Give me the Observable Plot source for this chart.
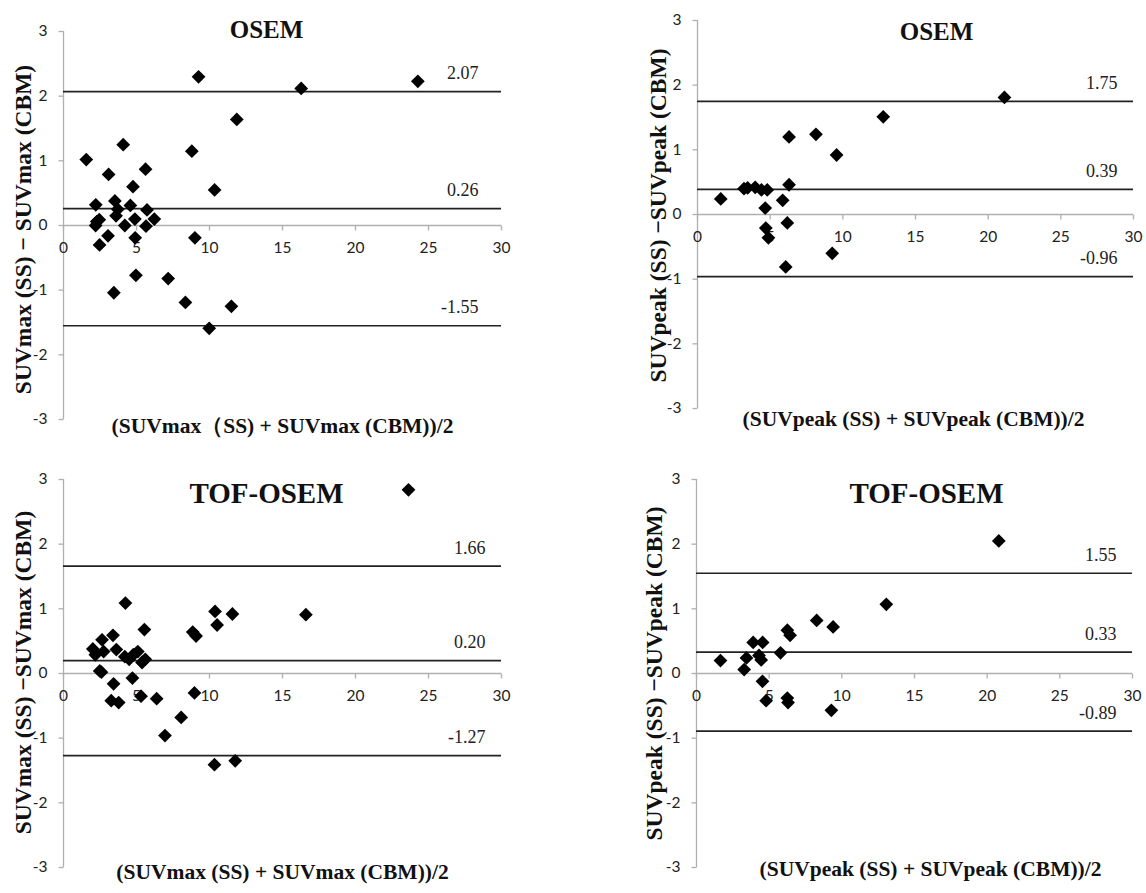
<!DOCTYPE html>
<html><head><meta charset="utf-8">
<script src="https://cdn.jsdelivr.net/npm/d3@7"></script>
<script src="https://cdn.jsdelivr.net/npm/@observablehq/plot@0.6"></script>
<style>
html,body{margin:0;padding:0;background:#fff;}
#wrap{position:relative;width:1146px;height:893px;overflow:hidden;background:#fff;}
#wrap svg{position:absolute;overflow:visible;}
</style></head><body><div id="wrap"></div>
<script>
// ---- data ----
const xTicks = [0, 5, 10, 15, 20, 25, 30];
const yTicks = [-3, -2, -1, 0, 1, 2, 3];
const titles = ["OSEM", "OSEM", "TOF-OSEM", "TOF-OSEM"];
const yLabels = [
  "SUVmax (SS) \u2212 SUVmax (CBM)",
  "SUVpeak (SS) \u2212SUVpeak (CBM)",
  "SUVmax (SS) \u2212SUVmax (CBM)",
  "SUVpeak (SS) \u2212SUVpeak (CBM)"
];
const xLabels = [
  "(SUVmax\uFF08SS) + SUVmax (CBM))/2",
  "(SUVpeak (SS) + SUVpeak (CBM))/2",
  "(SUVmax (SS) + SUVmax (CBM))/2",
  "(SUVpeak (SS) + SUVpeak (CBM))/2"
];

// SUVmax, OSEM
const p1x = [9.25, 24.27, 16.28, 11.87, 4.09, 8.79, 1.56, 3.09, 5.62, 4.76, 10.35, 2.21, 3.52, 4.58, 3.72, 5.72, 3.6, 2.45, 2.28, 4.89, 6.22, 2.2, 4.2, 5.65, 3.05, 4.91, 2.47, 9.0, 4.96, 7.17, 3.45, 8.35, 11.5, 9.98];
const p1y = [2.30, 2.23, 2.12, 1.64, 1.25, 1.15, 1.02, 0.79, 0.87, 0.60, 0.55, 0.32, 0.38, 0.31, 0.25, 0.24, 0.15, 0.09, 0.06, 0.10, 0.10, 0.0, 0.0, -0.01, -0.16, -0.19, -0.30, -0.19, -0.77, -0.82, -1.04, -1.19, -1.25, -1.59];
const p1refs = [2.07, 0.26, -1.55];

// SUVpeak, OSEM
const p2x = [21.12, 12.78, 8.15, 6.3, 9.57, 6.3, 1.6, 3.2, 3.45, 3.97, 4.4, 4.8, 4.66, 5.86, 6.18, 4.7, 4.88, 6.07, 9.27];
const p2y = [1.81, 1.51, 1.24, 1.20, 0.92, 0.46, 0.24, 0.40, 0.41, 0.42, 0.38, 0.38, 0.10, 0.22, -0.13, -0.21, -0.36, -0.81, -0.60];
const p2refs = [1.75, 0.39, -0.96];

// SUVmax, TOF-OSEM
const p3x = [23.63, 4.24, 10.38, 11.57, 16.6, 10.52, 8.85, 9.08, 5.54, 3.39, 2.64, 2.01, 2.18, 2.75, 3.62, 4.2, 4.5, 4.78, 5.09, 5.38, 5.6, 2.48, 2.6, 4.72, 3.43, 3.27, 3.78, 5.31, 6.38, 8.97, 8.06, 6.95, 10.34, 11.76];
const p3y = [2.84, 1.09, 0.96, 0.92, 0.91, 0.75, 0.64, 0.58, 0.68, 0.59, 0.52, 0.38, 0.29, 0.34, 0.37, 0.26, 0.22, 0.29, 0.34, 0.17, 0.22, 0.04, 0.02, -0.07, -0.16, -0.42, -0.45, -0.35, -0.39, -0.30, -0.68, -0.96, -1.41, -1.35];
const p3refs = [1.66, 0.20, -1.27];

// SUVpeak, TOF-OSEM
const p4x = [20.8, 13.06, 8.27, 9.4, 6.25, 6.44, 3.9, 4.55, 5.78, 4.3, 3.44, 4.45, 1.65, 3.28, 4.54, 4.79, 6.25, 6.3, 9.28];
const p4y = [2.05, 1.07, 0.82, 0.72, 0.67, 0.59, 0.48, 0.48, 0.32, 0.28, 0.24, 0.21, 0.20, 0.06, -0.12, -0.42, -0.38, -0.45, -0.57];
const p4refs = [1.55, 0.33, -0.89];

// ---- layout ----
const panels = [
  {xs: p1x, ys: p1y, refs: p1refs, left: 0, top: 0, w: 573, h: 446, ml: 63, mr: 72, mt: 31, mb: 27,
   tSize: 25, tdx: -16, tdy: -11, ydx: -40, ydy: 4, xdx: 0, xdy: 13, refDx: -23},
  {xs: p2x, ys: p2y, refs: p2refs, left: 573, top: 0, w: 573, h: 446, ml: 124, mr: 13, mt: 20, mb: 38,
   tSize: 25, tdx: 21, tdy: 2, ydx: -39, ydy: 1, xdx: -2, xdy: 17, refDx: -16},
  {xs: p3x, ys: p3y, refs: p3refs, left: 0, top: 446, w: 573, h: 447, ml: 63, mr: 72, mt: 33, mb: 26,
   tSize: 29, tdx: -16, tdy: 3, ydx: -40, ydy: -1, xdx: 0, xdy: 11, refDx: -16},
  {xs: p4x, ys: p4y, refs: p4refs, left: 573, top: 446, w: 573, h: 447, ml: 123, mr: 14, mt: 33, mb: 26,
   tSize: 29, tdx: 12, tdy: 3, ydx: -42, ydy: 0, xdx: 16, xdy: 8, refDx: -16}
];

const tickDown = {draw(ctx) { ctx.moveTo(0, 0); ctx.lineTo(0, 5); }};
const tickLeft = {draw(ctx) { ctx.moveTo(0, 0); ctx.lineTo(-5, 0); }};
const serif = "'Liberation Serif', 'Times New Roman', serif";
const sans = "Lato, 'Open Sans', sans-serif";
const axisGray = "#b0b0b0";

const wrap = document.getElementById("wrap");
panels.forEach((p, k) => {
  const idx = d3.range(p.xs.length);
  const svg = Plot.plot({
    width: p.w, height: p.h,
    marginLeft: p.ml, marginRight: p.mr, marginTop: p.mt, marginBottom: p.mb,
    x: {domain: [0, 30], axis: null},
    y: {domain: [-3, 3], axis: null},
    style: {background: "transparent", overflow: "visible"},
    marks: [
      Plot.ruleX([0], {y1: -3, y2: 3, stroke: axisGray, strokeWidth: 1.3}),
      Plot.ruleY([0], {x1: 0, x2: 30, stroke: axisGray, strokeWidth: 1.3}),
      Plot.dot(yTicks, {x: 0, y: d => d, symbol: tickLeft, r: 3, stroke: axisGray, strokeWidth: 1.3, fill: "none"}),
      Plot.dot(xTicks, {x: d => d, y: 0, symbol: tickDown, r: 3, stroke: axisGray, strokeWidth: 1.3, fill: "none"}),
      Plot.text(xTicks, {x: d => d, y: 0, text: d => String(d), dy: 23, fontSize: 15.5, fontFamily: sans, fill: "#222"}),
      Plot.text(yTicks, {x: 0, y: d => d, text: d => String(d), dx: -16, textAnchor: "end", fontSize: 15.5, fontFamily: sans, fill: "#222"}),
      Plot.ruleY(p.refs, {y: d => d, x1: 0, x2: 30, stroke: "#222", strokeWidth: 1.7}),
      Plot.text(p.refs, {x: 30, y: d => d, text: d => d.toFixed(2), textAnchor: "end", dx: p.refDx, dy: -18,
        fontSize: 18, fontFamily: serif, fill: "#222"}),
      Plot.dot(idx, {x: i => p.xs[i], y: i => p.ys[i], symbol: "diamond2", r: 6.2, fill: "#000"}),
      Plot.text([titles[k]], {text: d => d, frameAnchor: "top", dx: p.tdx, dy: p.tdy, fontSize: p.tSize,
        fontWeight: "bold", fontFamily: serif, fill: "#111"}),
      Plot.text([yLabels[k]], {text: d => d, frameAnchor: "left", rotate: -90, textAnchor: "middle",
        dx: p.ydx, dy: p.ydy, fontSize: 23.5, fontWeight: "bold", fontFamily: serif, fill: "#111"}),
      Plot.text([xLabels[k]], {text: d => d, frameAnchor: "bottom", textAnchor: "middle",
        dx: p.xdx, dy: p.xdy, fontSize: 21.5, fontWeight: "bold", fontFamily: serif, fill: "#111"})
    ]
  });
  svg.style.left = p.left + "px";
  svg.style.top = p.top + "px";
  wrap.appendChild(svg);
});
</script>
</body></html>
